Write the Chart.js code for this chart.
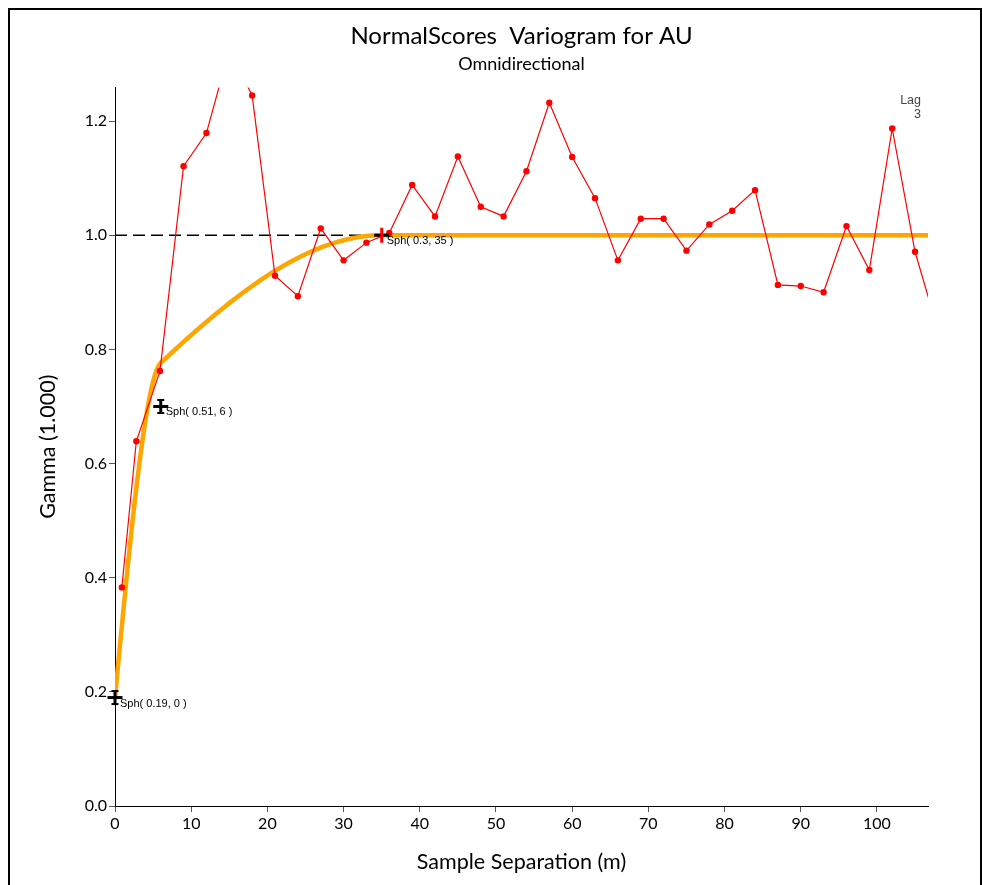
<!DOCTYPE html>
<html lang="en">

<head>
    <meta charset="UTF-8" />
    <title>NormalScores Variogram for AU</title>
    <script src="https://cdn.jsdelivr.net/npm/chart.js"></script>
    <style>
        body {
            margin: 0;
            background: #fff;
            overflow: hidden;
        }

        #wrap {
            position: relative;
            width: 983px;
            height: 885px;
        }

        #frame {
            position: absolute;
            left: 8px;
            top: 8px;
            width: 974px;
            height: 900px;
            box-sizing: border-box;
            border: 2px solid #000;
            pointer-events: none;
        }
    </style>
</head>

<body>
    <div id="wrap">
        <canvas id="variogram"></canvas>
        <div id="frame"></div>
    </div>

    <script>
        // experimental variogram: mean lag distance (m) and gamma
        const lagDist = [0.9, 2.8, 5.9, 9, 12, 15, 18, 21, 24, 27, 30, 33, 36, 39, 42, 45, 48, 51, 54,
            57, 60, 63, 66, 69, 72, 75, 78, 81, 84, 87, 90, 93, 96, 99, 102, 105, 108];
        const gammaValues = [0.383, 0.639, 0.762, 1.121, 1.179, 1.325, 1.245, 0.929, 0.893, 1.012, 0.956,
            0.987, 1.004, 1.088, 1.033, 1.138, 1.050, 1.033, 1.112, 1.232, 1.137, 1.065, 0.956, 1.029,
            1.029, 0.973, 1.019, 1.043, 1.079, 0.913, 0.911, 0.900, 1.016, 0.939, 1.187, 0.971, 0.834];

        // nested model structures (first one has zero range = nugget)
        const structType = ['Sph', 'Sph', 'Sph'];
        const structSill = [0.19, 0.51, 0.3];
        const structRange = [0, 6, 35];

        const xTickValues = [0, 10, 20, 30, 40, 50, 60, 70, 80, 90, 100];
        const yTickValues = [0, 0.2, 0.4, 0.6, 0.8, 1.0, 1.2];
        const lagLabel = ['Lag', '3'];

        const X_MAX = 106.7;
        const Y_MAX = 1.259;
        const FONT = 'Lato, "Open Sans", sans-serif';
        const SMALL_FONT = '"Liberation Sans", Arial, sans-serif';

        function sph(h, a) {
            if (a <= 0 || h >= a) return 1;
            const r = h / a;
            return 1.5 * r - 0.5 * r * r * r;
        }

        function modelGamma(h) {
            let g = 0;
            for (let i = 0; i < structSill.length; i++) g += structSill[i] * sph(h, structRange[i]);
            return g;
        }

        const totalSill = structSill.reduce((a, b) => a + b, 0);

        const expPts = lagDist.map((x, i) => ({ x: x, y: gammaValues[i] }));

        const modelPts = [];
        for (let h = 0; h <= X_MAX + 0.25; h += 0.25) modelPts.push({ x: h, y: modelGamma(h) });

        // marker at each structure: its range and the cumulative sill
        let cum = 0;
        const markerPts = structSill.map((s, i) => {
            cum += s;
            return { x: structRange[i], y: cum };
        });

        // marker glyphs: I-beam cross, and the last one with a red range tick
        function makeMarker(vertColor, caps) {
            const c = document.createElement('canvas');
            c.width = 17;
            c.height = 17;
            const g = c.getContext('2d');
            g.fillStyle = '#000';
            g.fillRect(1, 7, 15, 3);
            g.fillStyle = vertColor;
            g.fillRect(7, 1, 3, 15);
            if (caps) {
                g.fillRect(5, 1, 7, 2);
                g.fillRect(5, 14, 7, 2);
            }
            return c;
        }
        const crossBlack = makeMarker('#000', true);
        const crossRed = makeMarker('#ff0000', false);
        const markerStyles = markerPts.map((p, i) => i === markerPts.length - 1 ? crossRed : crossBlack);

        const labelsPlugin = {
            id: 'variogramLabels',
            afterDatasetsDraw(chart) {
                const { ctx, chartArea, scales } = chart;
                ctx.save();
                ctx.fillStyle = '#000';
                ctx.font = '11px ' + SMALL_FONT;
                ctx.textAlign = 'left';
                ctx.textBaseline = 'middle';
                markerPts.forEach((p, i) => {
                    const px = scales.x.getPixelForValue(p.x);
                    const py = scales.y.getPixelForValue(p.y);
                    ctx.fillText(structType[i] + '( ' + structSill[i] + ', ' + structRange[i] + ' )', px + 5, py + 6);
                });

                ctx.fillStyle = '#444';
                ctx.font = '12.5px ' + SMALL_FONT;
                ctx.textAlign = 'right';
                lagLabel.forEach((t, i) => {
                    ctx.fillText(t, chartArea.right - 7, chartArea.top + 13 + i * 14);
                });
                ctx.restore();
            }
        };

        new Chart(document.getElementById('variogram'), {
            type: 'scatter',
            data: {
                datasets: [
                    {
                        label: 'structures',
                        data: markerPts,
                        pointStyle: markerStyles,
                        pointRadius: 8,
                        clip: false,
                        order: 0
                    },
                    {
                        label: 'experimental',
                        data: expPts,
                        showLine: true,
                        borderColor: '#ff0000',
                        backgroundColor: '#ff0000',
                        borderWidth: 1.2,
                        pointRadius: 3.2,
                        pointBorderWidth: 0,
                        clip: 0,
                        order: 1
                    },
                    {
                        label: 'model',
                        data: modelPts,
                        showLine: true,
                        borderColor: '#ffa500',
                        borderWidth: 4.5,
                        pointRadius: 0,
                        clip: 0,
                        order: 2
                    },
                    {
                        label: 'sill',
                        data: [{ x: 0, y: totalSill }, { x: X_MAX, y: totalSill }],
                        showLine: true,
                        borderColor: '#000',
                        borderWidth: 1.5,
                        borderDash: [12, 6],
                        pointRadius: 0,
                        clip: 0,
                        order: 3
                    }
                ]
            },
            options: {
                responsive: true,
                maintainAspectRatio: false,
                animation: false,
                layout: { padding: { top: 10, right: 55, bottom: 0, left: 0 } },
                plugins: {
                    legend: { display: false },
                    tooltip: { enabled: false },
                    title: {
                        display: true,
                        text: 'NormalScores  Variogram for AU',
                        fullSize: false,
                        color: '#000',
                        font: { family: FONT, size: 24, weight: 'normal' },
                        padding: { top: 12, bottom: 3 }
                    },
                    subtitle: {
                        display: true,
                        text: 'Omnidirectional',
                        fullSize: false,
                        color: '#000',
                        font: { family: FONT, size: 18, weight: 'normal' },
                        padding: { top: 0, bottom: 12 }
                    }
                },
                scales: {
                    x: {
                        type: 'linear',
                        min: 0,
                        max: X_MAX,
                        afterBuildTicks: s => { s.ticks = xTickValues.map(v => ({ value: v })); },
                        afterFit: s => { s.height = 79; },
                        ticks: {
                            color: '#000',
                            font: { family: FONT, size: 16 },
                            padding: 2,
                            maxRotation: 0,
                            autoSkip: false,
                            callback: v => String(v)
                        },
                        grid: { drawOnChartArea: false, drawTicks: true, tickLength: 6, color: '#555' },
                        border: { color: '#000', width: 1 },
                        title: {
                            display: true,
                            text: 'Sample Separation (m)',
                            color: '#000',
                            font: { family: FONT, size: 21.5 },
                            padding: { top: 0, bottom: 10 }
                        }
                    },
                    y: {
                        type: 'linear',
                        min: 0,
                        max: Y_MAX,
                        afterBuildTicks: s => { s.ticks = yTickValues.map(v => ({ value: v })); },
                        afterFit: s => { s.width = 115; },
                        ticks: {
                            color: '#000',
                            font: { family: FONT, size: 16 },
                            padding: 2,
                            autoSkip: false,
                            callback: v => v.toFixed(1)
                        },
                        grid: { drawOnChartArea: false, drawTicks: true, tickLength: 6, color: '#555' },
                        border: { color: '#000', width: 1 },
                        title: {
                            display: true,
                            text: 'Gamma (1.000)',
                            color: '#000',
                            font: { family: FONT, size: 21.5 },
                            padding: { top: 35, bottom: 0 }
                        }
                    }
                }
            },
            plugins: [labelsPlugin]
        });
    </script>
</body>

</html>
